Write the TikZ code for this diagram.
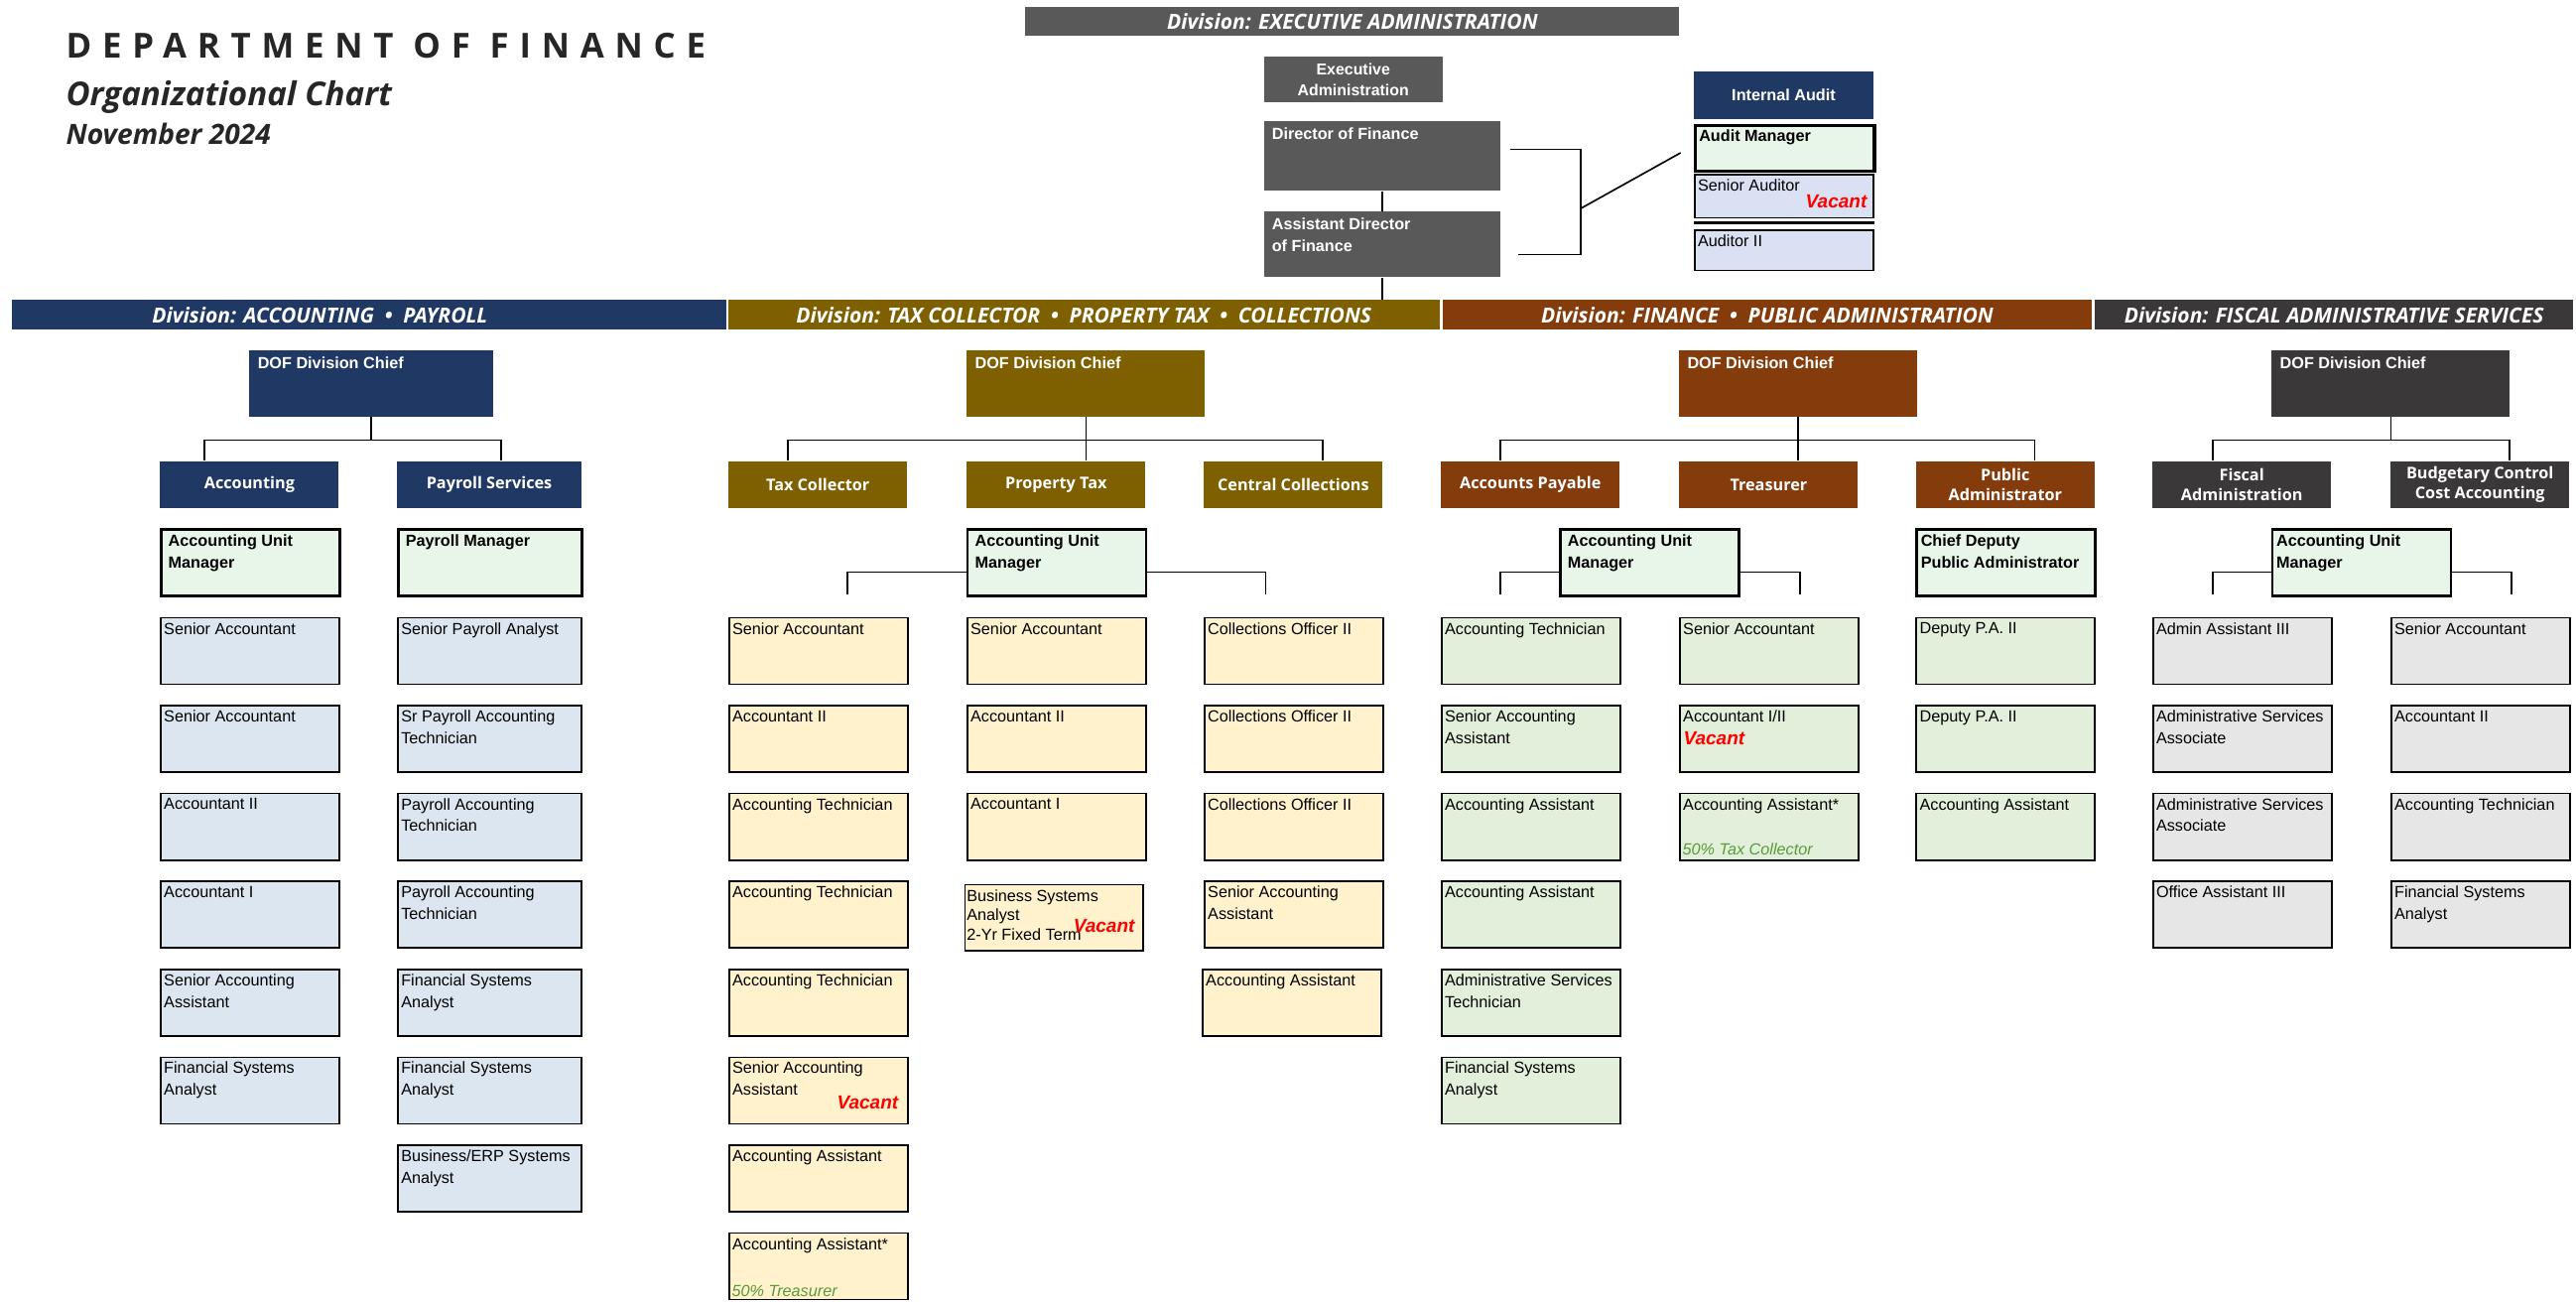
\documentclass[tikz,border=0pt]{standalone}
\usepackage{fontspec}
\setmainfont{Liberation Sans}
\newfontfamily\hdfont{Open Sans}
\usetikzlibrary{calc}

\definecolor{navy}{HTML}{1F3864}
\definecolor{olive}{HTML}{7F6000}
\definecolor{rust}{HTML}{843C0C}
\definecolor{charcoal}{HTML}{3A3838}
\definecolor{execgray}{HTML}{595959}
\definecolor{titleblack}{HTML}{262626}
\definecolor{mgrgreen}{HTML}{E8F6E9}
\definecolor{accblue}{HTML}{DCE6F1}
\definecolor{taxcream}{HTML}{FFF2CC}
\definecolor{fingreen}{HTML}{E2EFDA}
\definecolor{fisgray}{HTML}{E6E6E6}
\definecolor{audblue}{HTML}{DAE1F3}
\definecolor{notegreen}{HTML}{5B9A3A}
\definecolor{vacred}{HTML}{FF0000}

\tikzset{
  divbar/.style={fill=#1, anchor=north west, minimum height=18pt, inner sep=0pt, text=white, font=\hdfont\fontsize{12.7}{14}\selectfont\bfseries\itshape},
  chiefbox/.style={fill=#1, anchor=north west, minimum width=145pt, minimum height=40.5pt, inner sep=0pt},
  unitbox/.style={fill=#1, anchor=north west, minimum width=108.7pt, minimum height=28.5pt, inner sep=0pt, text=white, align=center, font=\hdfont\fontsize{9.8}{12}\selectfont\bfseries},
  postbox/.style={draw=black, line width=1pt, fill=#1, anchor=north west, minimum width=108.7pt, minimum height=40.5pt, inner sep=0pt},
  mgrbox/.style={postbox=mgrgreen, line width=1.5pt},
  tltext/.style={anchor=north west, inner xsep=2.3pt, inner ysep=3.2pt, align=left, font=\fontsize{9.8}{13.1}\selectfont},
  btext/.style={tltext, inner xsep=5pt, inner ysep=4pt, font=\fontsize{9.8}{13.1}\selectfont\bfseries},
  wtext/.style={btext, text=white},
  vacant/.style={inner sep=0pt, text=vacred, font=\fontsize{11.5}{13}\selectfont\bfseries\itshape},
  note/.style={inner sep=0pt, text=notegreen, font=\fontsize{9.8}{12}\selectfont\itshape},
  conn/.style={draw=black, line width=1pt},
}

\begin{document}
\begin{tikzpicture}[x=1pt,y=1pt,yscale=-1]
\path[fill=white] (0,0) rectangle (1568,792);
\useasboundingbox (0,0) rectangle (1568,792);

% Title
\node[anchor=base west, inner sep=0pt, text=titleblack, font=\hdfont\fontsize{21}{24}\selectfont\bfseries\addfontfeature{LetterSpace=31}] (deptT) at (40,35.5) {DEPARTMENT OF FINANCE};
\node[anchor=base west, inner sep=0pt, text=titleblack, font=\hdfont\fontsize{20}{24}\selectfont\bfseries\itshape] (orgT) at (40,64.4) {Organizational Chart};
\node[anchor=base west, inner sep=0pt, text=titleblack, font=\hdfont\fontsize{17}{20}\selectfont\bfseries\itshape] (dateT) at (40,87.6) {November 2024};

% Division bars
\node[divbar=execgray, minimum width=398pt, minimum height=17.5pt] (barE) at (624,4) {Division: EXECUTIVE ADMINISTRATION};
\node[divbar=navy, minimum width=435pt] (barA) at (7,182.5) {Division: ACCOUNTING\ \ •\ \ PAYROLL\hspace*{60pt}};
\node[divbar=olive, minimum width=433pt] (barT) at (443,182.5) {Division: TAX COLLECTOR\ \ •\ \ PROPERTY TAX\ \ •\ \ COLLECTIONS};
\node[divbar=rust, minimum width=395pt] (barF) at (878,182.5) {Division: FINANCE\ \ •\ \ PUBLIC ADMINISTRATION};
\node[divbar=charcoal, minimum width=291pt] (barS) at (1275,182.5) {Division: FISCAL ADMINISTRATIVE SERVICES};

% Executive administration
\node[chiefbox=execgray, minimum width=109pt, minimum height=27.6pt, text=white, align=center, font=\fontsize{9.6}{12.5}\selectfont\bfseries] (execAdm) at (769,34.4) {Executive\\Administration};
\node[chiefbox=execgray, minimum width=144pt, minimum height=42.3pt, label={[wtext]north west:Director of Finance}] (dirF) at (769,73.7) {};
\node[chiefbox=execgray, minimum width=144pt, minimum height=39.8pt, label={[wtext]north west:{Assistant Director\\of Finance}}] (asstF) at (769,128.7) {};
\draw[conn] (dirF.south) -- (asstF.north);
\draw[conn] (asstF.south) -- (asstF.south |- barT.north);

% Internal audit
\node[chiefbox=navy, minimum width=109pt, minimum height=29pt, text=white, font=\fontsize{9.8}{12}\selectfont\bfseries] (intAud) at (1031,43) {Internal Audit};
\node[mgrbox, line width=2pt, minimum width=109pt, minimum height=27.5pt, label={[btext, inner xsep=3pt, inner ysep=3pt]north west:Audit Manager}] (audMgr) at (1031,75.5) {};
\node[postbox=audblue, minimum width=109pt, minimum height=26pt, label={[tltext]north west:Senior Auditor}] (srAud) at (1031,106) {};
\node[vacant, anchor=base east] (vacAud) at ($(srAud.south east)+(-4.4,-6.3)$) {Vacant};
\node[postbox=audblue, minimum width=109pt, minimum height=24.5pt, label={[tltext]north west:Auditor II}] (aud2) at (1031,139.5) {};
\draw[line width=1.6pt] ($(aud2.north west)+(0,-4)$) -- ($(aud2.north east)+(0,-4)$);
\coordinate (brkA) at (919,91);
\coordinate (brkB) at (924,155);
\coordinate (brkM) at (962,127);
\coordinate (brkC) at (1023,93);
\draw[conn] (brkA) -- ++(43,0) |- (brkB);
\draw[conn] (brkM) -- (brkC);

% Division chiefs
\node[chiefbox=navy, minimum width=148pt, label={[wtext]north west:DOF Division Chief}] (chiefA) at (151.7,213) {};
\node[chiefbox=olive, label={[wtext]north west:DOF Division Chief}] (chiefT) at (588.3,213) {};
\node[chiefbox=rust, label={[wtext]north west:DOF Division Chief}] (chiefF) at (1021.9,213) {};
\node[chiefbox=charcoal, label={[wtext]north west:DOF Division Chief}] (chiefS) at (1382.6,213) {};

% Units
\node[unitbox=navy] (unitAcc) at (97.3,280.5) {Accounting};
\node[unitbox=navy, minimum width=111.8pt] (unitPay) at (241.7,280.5) {Payroll Services};
\node[unitbox=olive] (unitTax) at (443.3,280.5) {Tax Collector};
\node[unitbox=olive] (unitPrp) at (588.3,280.5) {Property Tax};
\node[unitbox=olive] (unitCol) at (732.7,280.5) {Central Collections};
\node[unitbox=rust] (unitAP) at (877,280.5) {Accounts Payable};
\node[unitbox=rust] (unitTr) at (1022,280.5) {Treasurer};
\node[unitbox=rust] (unitPA) at (1166,280.5) {Public\\Administrator};
\node[unitbox=charcoal] (unitFA) at (1310,280.5) {Fiscal\\Administration};
\node[unitbox=charcoal] (unitBC) at (1455,280.5) {Budgetary Control\\Cost Accounting};

\draw[conn] (chiefA.south) -- ++(0,14) -| ($(unitAcc.north west)+(27.3,0)$);
\draw[conn] (chiefA.south) ++(0,14) -| ($(unitPay.north west)+(63.3,0)$);
\draw[conn] (chiefT.south) -- ++(0,14) -| ($(unitTax.north west)+(36.1,0)$);
\draw[conn] (chiefT.south) -- (chiefT.south |- unitPrp.north);
\draw[conn] (chiefT.south) ++(0,14) -| ($(unitCol.north west)+(72.3,0)$);
\draw[conn] (chiefF.south) -- ++(0,14) -| ($(unitAP.north west)+(36.3,0)$);
\draw[conn] (chiefF.south) -- (chiefF.south |- unitTr.north);
\draw[conn] (chiefF.south) ++(0,14) -| ($(unitPA.north west)+(72.4,0)$);
\draw[conn] (chiefS.south) -- ++(0,14) -| ($(unitFA.north west)+(36.9,0)$);
\draw[conn] (chiefS.south) ++(0,14) -| ($(unitBC.north west)+(72.5,0)$);

% Accounting
\node[mgrbox, label={[btext]north west:{Accounting Unit\\Manager}}] (acc0) at (97.3,321.5) {};
\node[postbox=accblue, label={[tltext]north west:Senior Accountant}] (acc1) at (97.3,375.5) {};
\node[postbox=accblue, label={[tltext]north west:Senior Accountant}] (acc2) at (97.3,429) {};
\node[postbox=accblue, label={[tltext]north west:Accountant II}] (acc3) at (97.3,482.5) {};
\node[postbox=accblue, label={[tltext]north west:Accountant I}] (acc4) at (97.3,536) {};
\node[postbox=accblue, label={[tltext]north west:{Senior Accounting\\Assistant}}] (acc5) at (97.3,589.5) {};
\node[postbox=accblue, label={[tltext]north west:{Financial Systems\\Analyst}}] (acc6) at (97.3,643) {};

% Payroll
\node[mgrbox, minimum width=111.8pt, label={[btext]north west:Payroll Manager}] (pay0) at (241.7,321.5) {};
\node[postbox=accblue, minimum width=111.8pt, label={[tltext]north west:Senior Payroll Analyst}] (pay1) at (241.7,375.5) {};
\node[postbox=accblue, minimum width=111.8pt, label={[tltext]north west:{Sr Payroll Accounting\\Technician}}] (pay2) at (241.7,429) {};
\node[postbox=accblue, minimum width=111.8pt, label={[tltext]north west:{Payroll Accounting\\Technician}}] (pay3) at (241.7,482.5) {};
\node[postbox=accblue, minimum width=111.8pt, label={[tltext]north west:{Payroll Accounting\\Technician}}] (pay4) at (241.7,536) {};
\node[postbox=accblue, minimum width=111.8pt, label={[tltext]north west:{Financial Systems\\Analyst}}] (pay5) at (241.7,589.5) {};
\node[postbox=accblue, minimum width=111.8pt, label={[tltext]north west:{Financial Systems\\Analyst}}] (pay6) at (241.7,643) {};
\node[postbox=accblue, minimum width=111.8pt, label={[tltext]north west:{Business/ERP Systems\\Analyst}}] (pay7) at (241.7,696.5) {};

% Tax collector / property tax / collections
\node[mgrbox, label={[btext]north west:{Accounting Unit\\Manager}}] (aumT) at (588.3,321.5) {};
\draw[conn] ($(aumT.north west)+(0,26.8)$) -- ++(-72.3,0) -- ++(0,13.7);
\draw[conn] ($(aumT.north east)+(0,26.8)$) -- ++(72,0) -- ++(0,13.7);
\node[postbox=taxcream, label={[tltext]north west:Senior Accountant}] (tax1) at (443.3,375.5) {};
\node[postbox=taxcream, label={[tltext]north west:Accountant II}] (tax2) at (443.3,429) {};
\node[postbox=taxcream, label={[tltext]north west:Accounting Technician}] (tax3) at (443.3,482.5) {};
\node[postbox=taxcream, label={[tltext]north west:Accounting Technician}] (tax4) at (443.3,536) {};
\node[postbox=taxcream, label={[tltext]north west:Accounting Technician}] (tax5) at (443.3,589.5) {};
\node[postbox=taxcream, label={[tltext]north west:{Senior Accounting\\Assistant}}] (tax6) at (443.3,643) {};
\node[vacant, anchor=base east] (vacTax) at ($(tax6.south east)+(-6,-9.5)$) {Vacant};
\node[postbox=taxcream, label={[tltext]north west:Accounting Assistant}] (tax7) at (443.3,696.5) {};
\node[postbox=taxcream, label={[tltext]north west:Accounting Assistant*}] (tax8) at (443.3,750) {};
\node[note, anchor=base west] (noteTax) at ($(tax8.south west)+(2,-2.3)$) {50\% Treasurer};
\node[postbox=taxcream, label={[tltext]north west:Senior Accountant}] (prp1) at (588.3,375.5) {};
\node[postbox=taxcream, label={[tltext]north west:Accountant II}] (prp2) at (588.3,429) {};
\node[postbox=taxcream, label={[tltext]north west:Accountant I}] (prp3) at (588.3,482.5) {};
\node[postbox=taxcream, minimum height=40pt, label={[tltext, inner xsep=1.5pt, font=\fontsize{9.8}{12}\selectfont]north west:{Business Systems\\Analyst\\2-Yr Fixed Term}}] (prp4) at (586.8,538) {};
\node[vacant, anchor=base east] (vacPrp) at ($(prp4.south east)+(-5.6,-11.4)$) {Vacant};
\node[postbox=taxcream, label={[tltext]north west:Collections Officer II}] (col1) at (732.7,375.5) {};
\node[postbox=taxcream, label={[tltext]north west:Collections Officer II}] (col2) at (732.7,429) {};
\node[postbox=taxcream, label={[tltext]north west:Collections Officer II}] (col3) at (732.7,482.5) {};
\node[postbox=taxcream, label={[tltext]north west:{Senior Accounting\\Assistant}}] (col4) at (732.7,536) {};
\node[postbox=taxcream, label={[tltext]north west:Accounting Assistant}] (col5) at (731.5,589.5) {};

% Finance / public administration
\node[mgrbox, label={[btext]north west:{Accounting Unit\\Manager}}] (aumF) at (949,321.5) {};
\draw[conn] ($(aumF.north west)+(0,26.8)$) -- ++(-35.7,0) -- ++(0,13.7);
\draw[conn] ($(aumF.north east)+(0,26.8)$) -- ++(36.4,0) -- ++(0,13.7);
\node[postbox=fingreen, label={[tltext]north west:Accounting Technician}] (ap1) at (877,375.5) {};
\node[postbox=fingreen, label={[tltext]north west:{Senior Accounting\\Assistant}}] (ap2) at (877,429) {};
\node[postbox=fingreen, label={[tltext]north west:Accounting Assistant}] (ap3) at (877,482.5) {};
\node[postbox=fingreen, label={[tltext]north west:Accounting Assistant}] (ap4) at (877,536) {};
\node[postbox=fingreen, label={[tltext]north west:{Administrative Services\\Technician}}] (ap5) at (877,589.5) {};
\node[postbox=fingreen, label={[tltext]north west:{Financial Systems\\Analyst}}] (ap6) at (877,643) {};
\node[postbox=fingreen, label={[tltext]north west:Senior Accountant}] (tr1) at (1022,375.5) {};
\node[postbox=fingreen, label={[tltext]north west:Accountant I/II}] (tr2) at (1022,429) {};
\node[vacant, anchor=base west] (vacTr) at ($(tr2.north west)+(2.5,24)$) {Vacant};
\node[postbox=fingreen, label={[tltext]north west:Accounting Assistant*}] (tr3) at (1022,482.5) {};
\node[note, anchor=base west] (noteTr) at ($(tr3.south west)+(2,-3.8)$) {50\% Tax Collector};
\node[mgrbox, label={[btext, inner xsep=3pt]north west:{Chief Deputy\\Public Administrator}}] (pa0) at (1166,321.5) {};
\node[postbox=fingreen, label={[tltext]north west:Deputy P.A. II}] (pa1) at (1166,375.5) {};
\node[postbox=fingreen, label={[tltext]north west:Deputy P.A. II}] (pa2) at (1166,429) {};
\node[postbox=fingreen, label={[tltext]north west:Accounting Assistant}] (pa3) at (1166,482.5) {};

% Fiscal administrative services
\node[mgrbox, label={[btext, inner xsep=3pt]north west:{Accounting Unit\\Manager}}] (aumS) at (1382.4,321.5) {};
\draw[conn] ($(aumS.north west)+(0,26.8)$) -- ++(-35.5,0) -- ++(0,13.7);
\draw[conn] ($(aumS.north east)+(0,26.8)$) -- ++(36.2,0) -- ++(0,13.7);
\node[postbox=fisgray, label={[tltext]north west:Admin Assistant III}] (fa1) at (1310,375.5) {};
\node[postbox=fisgray, label={[tltext]north west:{Administrative Services\\Associate}}] (fa2) at (1310,429) {};
\node[postbox=fisgray, label={[tltext]north west:{Administrative Services\\Associate}}] (fa3) at (1310,482.5) {};
\node[postbox=fisgray, label={[tltext]north west:Office Assistant III}] (fa4) at (1310,536) {};
\node[postbox=fisgray, label={[tltext]north west:Senior Accountant}] (bc1) at (1455,375.5) {};
\node[postbox=fisgray, label={[tltext]north west:Accountant II}] (bc2) at (1455,429) {};
\node[postbox=fisgray, label={[tltext]north west:Accounting Technician}] (bc3) at (1455,482.5) {};
\node[postbox=fisgray, label={[tltext]north west:{Financial Systems\\Analyst}}] (bc4) at (1455,536) {};

\end{tikzpicture}
\end{document}
